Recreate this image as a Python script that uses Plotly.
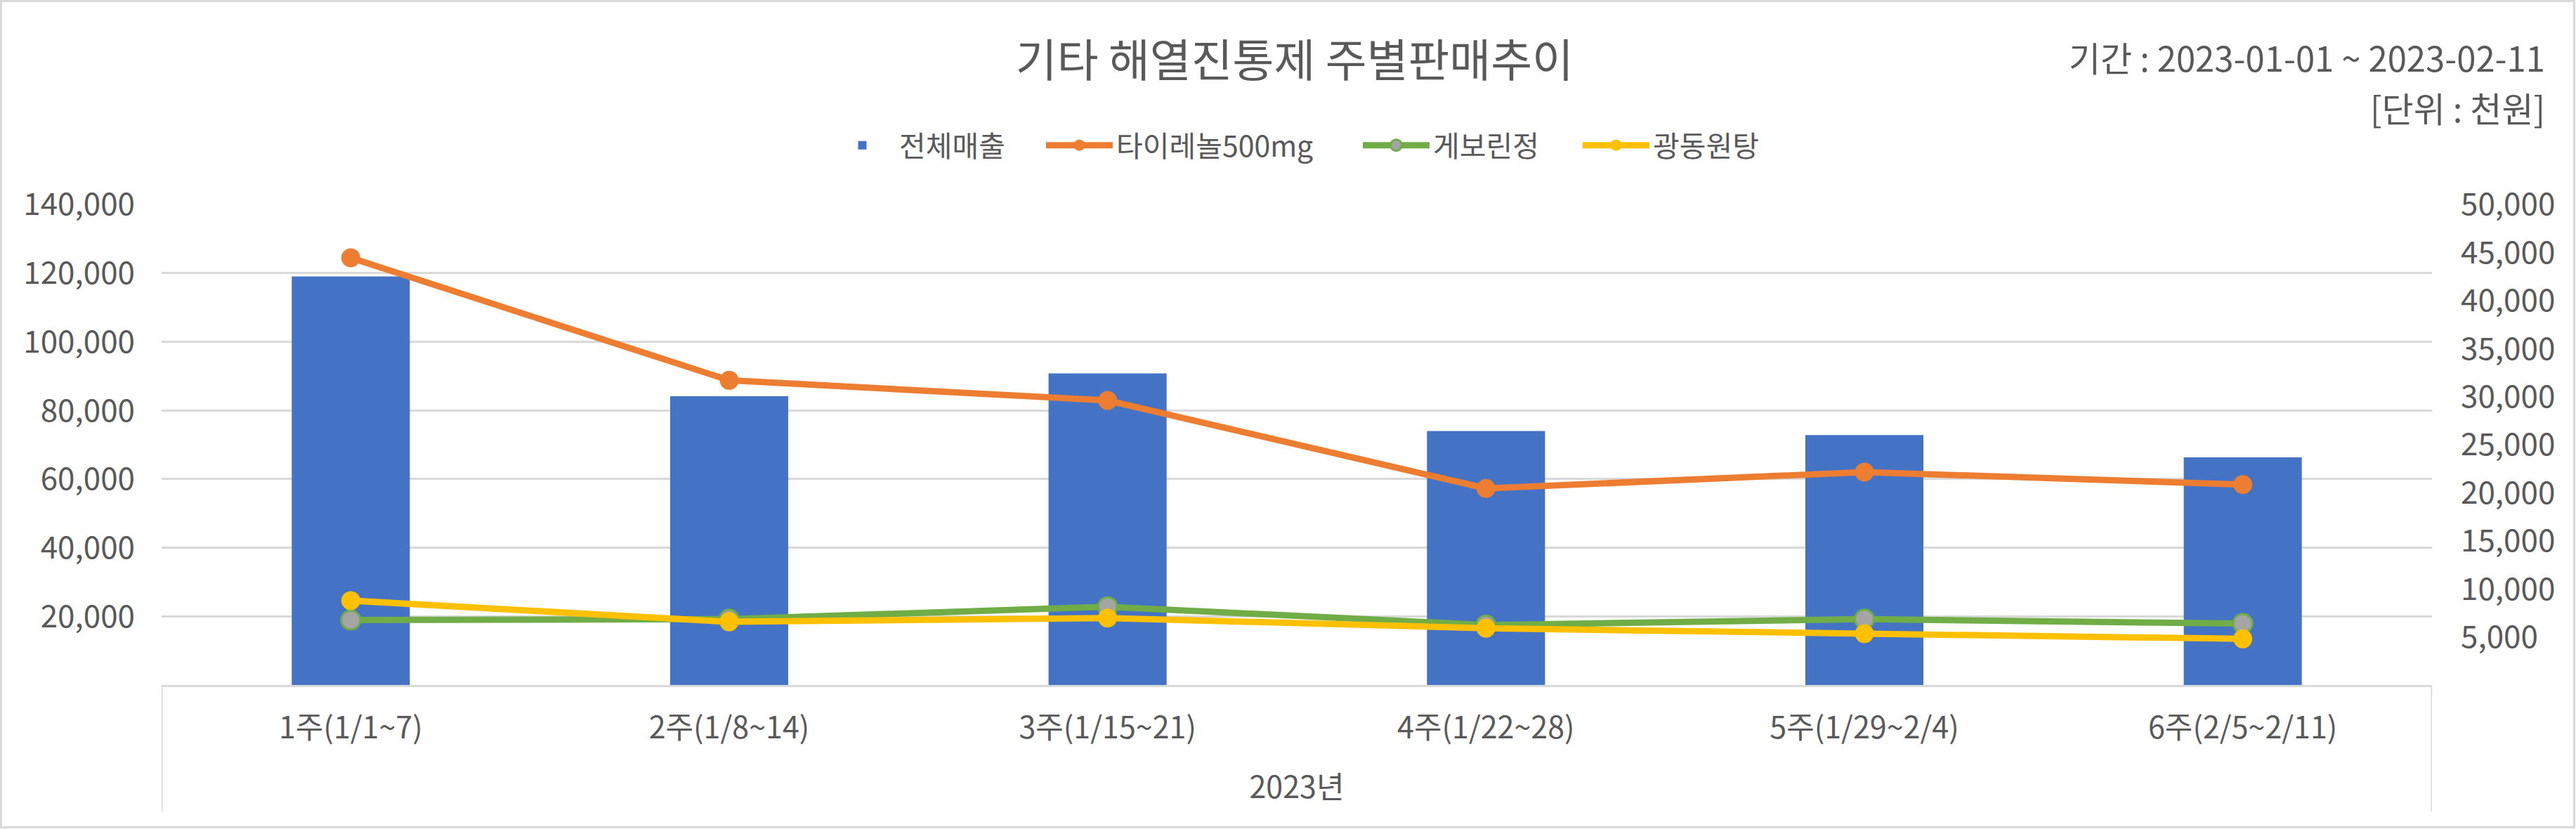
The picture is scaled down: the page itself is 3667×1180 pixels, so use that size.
import plotly.graph_objects as go

# ---- data ----
year_label = "2023년"
weeks = ["1주(1/1~7)", "2주(1/8~14)", "3주(1/15~21)", "4주(1/22~28)", "5주(1/29~2/4)", "6주(2/5~2/11)"]
total_sales = [119000, 84100, 90800, 74000, 72800, 66300]
tylenol = [44450, 31700, 29600, 20450, 22150, 20860]
geborin = [6760, 6850, 8140, 6240, 6850, 6390]
gwangdong = [8780, 6570, 6970, 5900, 5340, 4800]
left_ticks = [20000, 40000, 60000, 80000, 100000, 120000, 140000]
right_ticks = [5000, 10000, 15000, 20000, 25000, 30000, 35000, 40000, 45000, 50000]

title_text = "기타 해열진통제 주별판매추이"
period_text = "기간 : 2023-01-01 ~ 2023-02-11"
unit_text = "[단위 : 천원]"

# ---- layout constants ----
W, H = 3667, 1180
L, R, T, B = 230, 205, 291, 205
PW, PH = W - L - R, H - T - B
FONT = "Noto Sans CJK KR, Noto Sans, sans-serif"
TXT = "#595959"
GRID = "#D9D9D9"


def px_x(p):
    return (p - L) / PW


def px_y(p):
    return (H - B - p) / PH


fig = go.Figure()
fig.add_trace(go.Bar(x=weeks, y=total_sales, name="전체매출", legend="legend", showlegend=True,
                     marker=dict(color="#4472C4", line=dict(width=0)), yaxis="y"))
fig.add_trace(go.Scatter(x=weeks, y=tylenol, name="타이레놀500mg", mode="lines+markers", yaxis="y2",
                         legend="legend2",
                         line=dict(color="#ED7D31", width=9),
                         marker=dict(size=27, color="#ED7D31", line=dict(width=0))))
fig.add_trace(go.Scatter(x=weeks, y=geborin, name="게보린정", mode="lines+markers", yaxis="y2",
                         legend="legend3",
                         line=dict(color="#70AD47", width=9),
                         marker=dict(size=27, color="#A5A5A5", line=dict(width=3, color="#70AD47"))))
fig.add_trace(go.Scatter(x=weeks, y=gwangdong, name="광동원탕", mode="lines+markers", yaxis="y2",
                         legend="legend4",
                         line=dict(color="#FFC000", width=9),
                         marker=dict(size=27, color="#FFC000", line=dict(width=0))))

# category-axis edge dividers (Excel multi-level axis style), in x-axis units
divider_depth = (1155 - (H - B)) / PH
shapes = [dict(type="line", xref="x", yref="paper", x0=xv, x1=xv, y0=0, y1=-divider_depth,
               line=dict(color=GRID, width=3))
          for xv in (-0.5, len(weeks) - 0.5)]
# outer chart border
shapes.append(dict(type="rect", xref="paper", yref="paper",
                   x0=px_x(1.5), x1=px_x(W - 2.5), y0=px_y(H - 2.5), y1=px_y(1.5),
                   line=dict(color=GRID, width=3), fillcolor="rgba(0,0,0,0)", layer="below"))

# one legend per entry so each entry sits where the reference places it
legend_text_starts = [1278, 1587, 2038, 2351]
ITEM_W = 95
TEXT_OFFSET = ITEM_W + 8


def legend_at(px_text_start):
    return dict(orientation="h", x=px_x(px_text_start - TEXT_OFFSET), xanchor="left",
                y=px_y(207), yanchor="middle", itemwidth=ITEM_W, visible=True,
                font=dict(size=41, color=TXT, family=FONT), bgcolor="rgba(0,0,0,0)")


fig.update_layout(
    width=W, height=H, showlegend=True,
    margin=dict(l=L, r=R, t=T, b=B, autoexpand=False),
    paper_bgcolor="white", plot_bgcolor="white",
    font=dict(family=FONT, color=TXT, size=42),
    bargap=0.688,
    title=dict(text=title_text, x=1830 / W, xanchor="center", xref="paper",
               y=1 - 87 / H, yanchor="middle", yref="container",
               font=dict(size=64, color=TXT, family=FONT)),
    legend=legend_at(legend_text_starts[0]),
    legend2=legend_at(legend_text_starts[1]),
    legend3=legend_at(legend_text_starts[2]),
    legend4=legend_at(legend_text_starts[3]),
    xaxis=dict(type="category", showline=True, linecolor=GRID, linewidth=3,
               ticks="", showgrid=False, tickfont=dict(size=43, color=TXT),
               ticklabelstandoff=21, range=[-0.5, len(weeks) - 0.5],
               title=dict(text=year_label, font=dict(size=43, color=TXT), standoff=45)),
    yaxis=dict(range=[0, 140000], tickvals=left_ticks, tickformat=",d",
               showgrid=True, gridcolor=GRID, gridwidth=3, zeroline=False,
               showline=False, ticks="", tickfont=dict(size=44, color=TXT), ticklabelstandoff=37),
    yaxis2=dict(range=[0, 50000], tickvals=right_ticks, tickformat=",d", overlaying="y", side="right",
                showgrid=False, zeroline=False, showline=False, ticks="",
                tickfont=dict(size=44, color=TXT), ticklabelstandoff=40),
    annotations=[
        dict(text=period_text, xref="paper", yref="paper", x=px_x(3625), y=px_y(81),
             xanchor="right", yanchor="middle", showarrow=False, font=dict(size=49, color=TXT)),
        dict(text=unit_text, xref="paper", yref="paper", x=px_x(3625), y=px_y(152),
             xanchor="right", yanchor="middle", showarrow=False, font=dict(size=49, color=TXT)),
    ],
    shapes=shapes,
)

fig.write_html("out.html", config={"displayModeBar": False},
               post_script="document.body.style.margin='0px';document.body.style.padding='0px';")
